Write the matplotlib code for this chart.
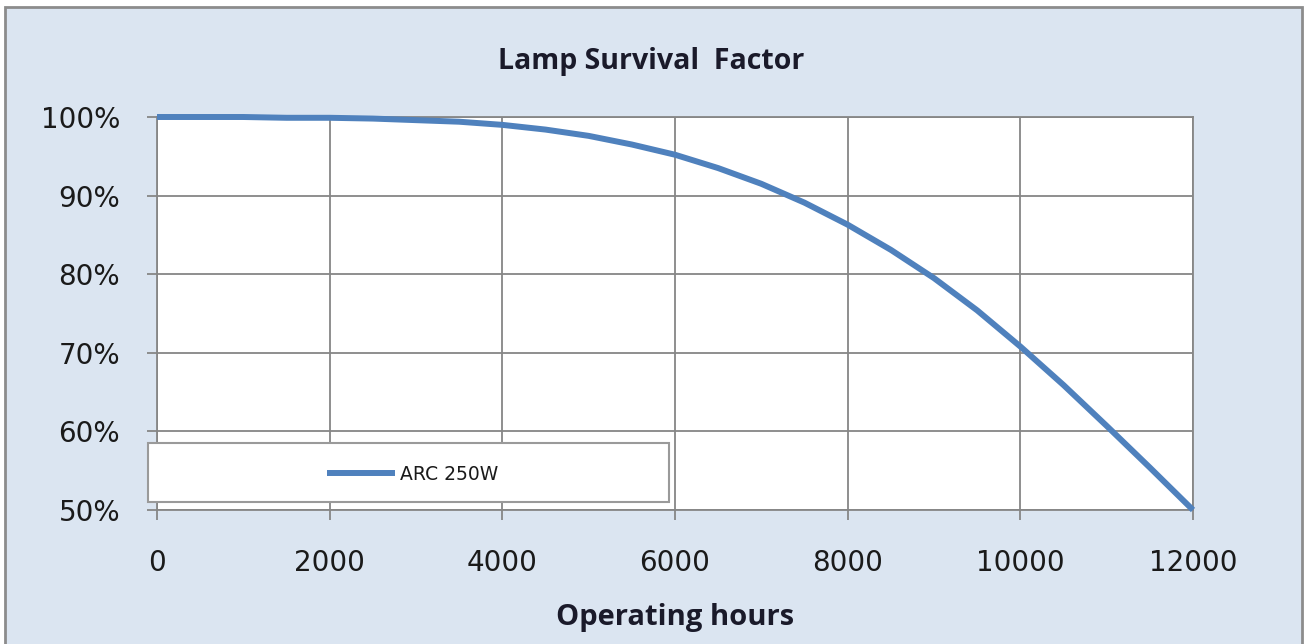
import numpy as np
import matplotlib
matplotlib.use("Agg")
import matplotlib.pyplot as plt
from matplotlib.patches import Rectangle
from matplotlib.ticker import PercentFormatter

# data
hours = [0, 500, 1000, 1500, 2000, 2500, 3000, 3500, 4000, 4500, 5000, 5500,
         6000, 6500, 7000, 7500, 8000, 8500, 9000, 9500, 10000, 10500, 11000,
         11500, 12000]
survival = [1.000, 1.000, 1.000, 0.999, 0.999, 0.998, 0.996, 0.994, 0.990,
            0.984, 0.976, 0.965, 0.952, 0.935, 0.915, 0.891, 0.863, 0.831,
            0.795, 0.754, 0.708, 0.659, 0.607, 0.554, 0.500]
series_name = "ARC 250W"
x_ticks = [0, 2000, 4000, 6000, 8000, 10000, 12000]
y_ticks = [0.5, 0.6, 0.7, 0.8, 0.9, 1.0]

W, H = 1306, 644
fig = plt.figure(figsize=(W / 100, H / 100), dpi=100, facecolor="white")

# chart area background with border
fig.patches.append(Rectangle((5 / W, -0.05), 1297 / W, 1.05 - 7 / H,
                             transform=fig.transFigure, facecolor="#dbe5f1",
                             edgecolor="#8c8c8c", linewidth=2, zorder=-5))

ax = fig.add_axes([157 / W, 1 - 510 / H, (1193 - 157) / W, (510 - 117) / H])
ax.set_facecolor("white")

ax.plot(hours, survival, color="#4f81bd", linewidth=4.3, solid_capstyle="butt",
        label=series_name, zorder=3, clip_on=False)

ax.set_xlim(0, 12000)
ax.set_ylim(0.5, 1.0)
ax.set_xticks(x_ticks)
ax.set_yticks(y_ticks)
ax.yaxis.set_major_formatter(PercentFormatter(1.0, decimals=0))
ax.grid(True, color="#868686", linewidth=1.3)
ax.set_axisbelow(True)
for s in ax.spines.values():
    s.set_color("#868686")
    s.set_linewidth(1.3)

ax.tick_params(axis="both", direction="out", length=7, width=1.3,
               color="#868686", labelsize=20, labelcolor="#1a1a1a")
ax.tick_params(axis="x", pad=21)
ax.tick_params(axis="y", pad=19.5)

fig.text(651 / W, 1 - 62 / H, "Lamp Survival  Factor", ha="center", va="center",
         fontsize=20.5, fontweight="bold", family="Open Sans", color="#1a1a2a")
fig.text(675 / W, 1 - 617 / H, "Operating hours", ha="center", va="center",
         fontsize=21, fontweight="bold", family="Open Sans", color="#1a1a2a")

# legend box overlapping plot area
fig.patches.append(Rectangle((148 / W, 1 - 502 / H), (669 - 148) / W, 59 / H,
                             transform=fig.transFigure, facecolor="white",
                             edgecolor="#9a9a9a", linewidth=1.5, zorder=5))
leg = fig.legend(loc="center", bbox_to_anchor=(413 / W, 1 - 474 / H),
                 frameon=False, fontsize=13.5, handlelength=3.6, handletextpad=0.3)
leg.set_zorder(6)
for t in leg.get_texts():
    t.set_color("#1a1a1a")

fig.savefig("out.png", dpi=100, facecolor=fig.get_facecolor())
